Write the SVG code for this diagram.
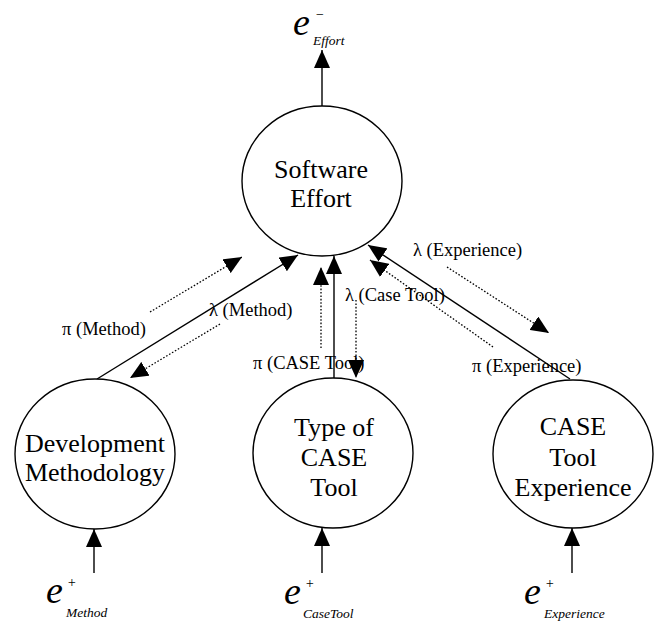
<svg xmlns="http://www.w3.org/2000/svg" width="655" height="624" viewBox="0 0 655 624">
<style>
.node{fill:#fff;stroke:#000;stroke-width:1.4}
.lbl{font-family:"Liberation Serif","Times New Roman",serif;font-size:26px;fill:#000;text-anchor:middle}
.elbl{font-family:"Liberation Serif","Times New Roman",serif;font-size:18.5px;fill:#000}
.err{font-family:"Liberation Serif","Times New Roman",serif;font-style:italic;fill:#000}
.solid{stroke:#000;stroke-width:1.4;fill:none}
.dot{stroke:#000;stroke-width:1.3;fill:none;stroke-dasharray:1.6 1.8}
</style>
<defs>
<marker id="ah" markerUnits="userSpaceOnUse" markerWidth="18" markerHeight="16" refX="18" refY="8" orient="auto" viewBox="0 0 18 16">
<path d="M0,0 L18,8 L0,16 z" fill="#000"/>
</marker>
</defs>
<g id="connectors">
<line class="solid" x1="322" y1="106" x2="322" y2="50" marker-end="url(#ah)"/>
<line class="solid" x1="94" y1="573" x2="94" y2="529" marker-end="url(#ah)"/>
<line class="solid" x1="322" y1="573" x2="322" y2="528" marker-end="url(#ah)"/>
<line class="solid" x1="572" y1="573" x2="572" y2="528" marker-end="url(#ah)"/>
<line class="solid" x1="97" y1="379" x2="298" y2="255" marker-end="url(#ah)"/>
<line class="dot" x1="150" y1="312" x2="242" y2="257" marker-end="url(#ah)"/>
<line class="dot" x1="220" y1="324" x2="130" y2="378" marker-end="url(#ah)"/>
<line class="solid" x1="334" y1="378" x2="334" y2="256" marker-end="url(#ah)"/>
<line class="dot" x1="321" y1="348" x2="321" y2="267" marker-end="url(#ah)"/>
<line class="dot" x1="356" y1="300" x2="356" y2="378" marker-end="url(#ah)"/>
<line class="solid" x1="570" y1="379" x2="368" y2="245" marker-end="url(#ah)"/>
<line class="dot" x1="493" y1="347" x2="370" y2="260" marker-end="url(#ah)"/>
<line class="dot" x1="447" y1="267" x2="549" y2="333" marker-end="url(#ah)"/>
<text class="elbl" x="62" y="335">π (Method)</text>
<text class="elbl" x="209" y="316">λ (Method)</text>
<text class="elbl" x="253" y="369">π (CASE Tool)</text>
<text class="elbl" x="345" y="301">λ (Case Tool)</text>
<text class="elbl" x="413" y="256">λ (Experience)</text>
<text class="elbl" x="472" y="372">π (Experience)</text>
</g>
<g id="software-effort">
<ellipse class="node" cx="322" cy="181" rx="80" ry="75"/>
<text class="lbl" x="321" y="178">Software</text>
<text class="lbl" x="321" y="207">Effort</text>
</g>
<g id="development-methodology">
<ellipse class="node" cx="95" cy="454" rx="80" ry="75"/>
<text class="lbl" x="95" y="452">Development</text>
<text class="lbl" x="95" y="481">Methodology</text>
</g>
<g id="type-of-case-tool">
<ellipse class="node" cx="333" cy="453" rx="80" ry="75"/>
<text class="lbl" x="334" y="436">Type of</text>
<text class="lbl" x="334" y="466">CASE</text>
<text class="lbl" x="334" y="496">Tool</text>
</g>
<g id="case-tool-experience">
<ellipse class="node" cx="573" cy="454" rx="80" ry="74"/>
<text class="lbl" x="573" y="435">CASE</text>
<text class="lbl" x="573" y="466">Tool</text>
<text class="lbl" x="573" y="496">Experience</text>
</g>
<g id="e-effort">
<text class="err" x="293" y="35" font-size="38">e</text>
<text class="err" x="315" y="19" font-size="14">−</text>
<text class="err" x="313" y="45" font-size="13.5">Effort</text>
</g>
<g id="e-method">
<text class="err" x="46" y="603" font-size="38">e</text>
<text class="err" x="67" y="587" font-size="14">+</text>
<text class="err" x="66" y="617" font-size="13.5">Method</text>
</g>
<g id="e-casetool">
<text class="err" x="284" y="604" font-size="38">e</text>
<text class="err" x="305" y="588" font-size="14">+</text>
<text class="err" x="303" y="618" font-size="13.5">CaseTool</text>
</g>
<g id="e-experience">
<text class="err" x="524" y="604" font-size="38">e</text>
<text class="err" x="545" y="588" font-size="14">+</text>
<text class="err" x="544" y="618" font-size="13.5">Experience</text>
</g>
</svg>
